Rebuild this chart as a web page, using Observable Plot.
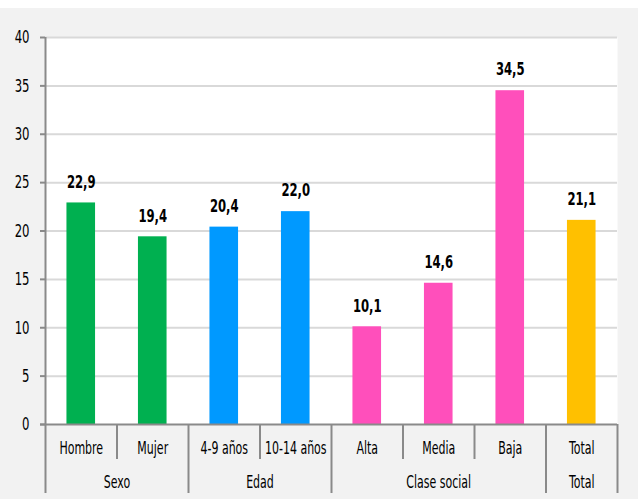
<!DOCTYPE html>
<html><head><meta charset="utf-8">
<script src="https://cdn.jsdelivr.net/npm/d3@7"></script>
<script src="https://cdn.jsdelivr.net/npm/@observablehq/plot@0.6"></script>
<style>
body{margin:0;background:#fff;}
#chart{padding-top:8px;}
#chart svg{display:block;background:#f2f2f2;}
</style></head><body><div id="chart"></div>
<script>
const categories = ["Hombre","Mujer","4-9 años","10-14 años","Alta","Media","Baja","Total"];
const groups = ["Sexo","Sexo","Edad","Edad","Clase social","Clase social","Clase social","Total"];
const values = [22.9,19.4,20.4,22.0,10.1,14.6,34.5,21.1];
const groupNames = ["Sexo","Edad","Clase social","Total"];
const groupColors = ["#00b050","#0099ff","#ff4fbb","#ffc000"];
const yTicks = [0,5,10,15,20,25,30,35,40];

const data = categories.map((c,i)=>({i, category:c, group:groups[i], value:values[i]}));
const groupData = groupNames.map(g => {
  const idx = data.filter(d=>d.group===g).map(d=>d.i);
  return {group:g, center:d3.mean(idx), start:d3.min(idx)-0.5, end:d3.max(idx)+0.5};
});
const innerSeps = data.filter((d,k)=>k>0 && data[k-1].group===d.group).map(d=>d.i-0.5);
const groupSeps = [...groupData.slice(1).map(g=>g.start), groupData[groupData.length-1].end];
const axisStart = groupData[0].start;
const fmt = d3.formatLocale({decimal:",",thousands:".",grouping:[3],currency:["","€"]}).format(".1f");
const font = '"DejaVu Sans Condensed","DejaVu Sans",sans-serif';
const gray = "#8a8a8a";

const chart = Plot.plot({
  width:638, height:491,
  marginTop:29, marginBottom:75, marginLeft:45, marginRight:21,
  style:{fontFamily:font, background:"#f2f2f2", color:"#000"},
  x:{domain:[axisStart, groupData[groupData.length-1].end], axis:null},
  y:{domain:[0,40], axis:null},
  color:{domain:groupNames, range:groupColors},
  marks:[
    Plot.frame({fill:"white", stroke:"none"}),
    Plot.ruleY(yTicks.filter(t=>t>0), {stroke:"#d9d9d9", strokeWidth:2}),
    Plot.rectY(data, {x1:d=>d.i-0.2, x2:d=>d.i+0.2, y:"value", fill:"group"}),
    Plot.text(data, {x:"i", y:"value", text:d=>fmt(d.value), dy:-21, lineAnchor:"middle", fontWeight:"bold", fontSize:18, fill:"#000"}),
    Plot.axisY(yTicks, {label:null, tickSize:5, tickPadding:11, stroke:gray, strokeWidth:2, fill:"#000", fontSize:18}),
    Plot.ruleX([axisStart], {stroke:gray, strokeWidth:2, insetBottom:-69}),
    Plot.ruleX(groupSeps, {y1:0, y2:0, stroke:gray, strokeWidth:2, insetBottom:-69}),
    Plot.ruleX(innerSeps, {y1:0, y2:0, stroke:gray, strokeWidth:2, insetBottom:-35}),
    Plot.ruleY([0], {stroke:gray, strokeWidth:2, insetLeft:-5}),
    Plot.text(data, {x:"i", text:"category", frameAnchor:"bottom", dy:24, lineAnchor:"middle", fontSize:17, fill:"#000"}),
    Plot.text(groupData, {x:"center", text:"group", frameAnchor:"bottom", dy:58, lineAnchor:"middle", fontSize:17, fill:"#000"})
  ]
});
document.getElementById("chart").append(chart);
// condense the lettering horizontally around each text's anchor point
chart.querySelectorAll("text").forEach(el => {
  let x = parseFloat(el.getAttribute("x"));
  if (isNaN(x)) x = 0;
  el.setAttribute("x", 0);
  const t = el.getAttribute("transform") || "";
  el.setAttribute("transform", `${t} translate(${x},0) scale(0.72,1)`);
});
</script></body></html>
